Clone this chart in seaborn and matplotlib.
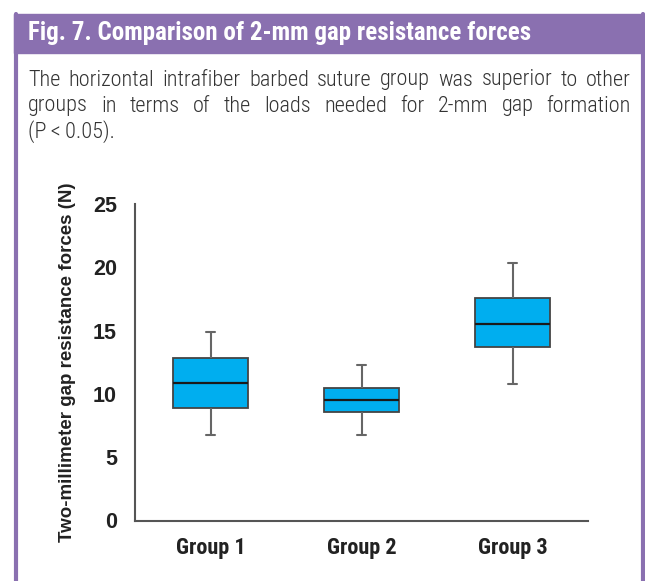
import pandas as pd
import matplotlib.pyplot as plt
import seaborn as sns
from matplotlib.patches import Rectangle
from matplotlib.lines import Line2D

# ---------------------------
# DATA
# ---------------------------
groups = ["Group 1", "Group 2", "Group 3"]
whisker_low = [6.75, 6.75, 10.8]
q1 = [8.85, 8.55, 13.7]
median = [10.85, 9.5, 15.55]
q3 = [12.8, 10.45, 17.55]
whisker_high = [14.9, 12.3, 20.35]

title = "Fig. 7. Comparison of 2-mm gap resistance forces"
caption = [
    "The horizontal intrafiber barbed suture group was superior to other",
    "groups in terms of the loads needed for 2-mm gap formation",
    "(P\u2009<\u20090.05).",
]
ylabel = "Two-millimeter gap resistance forces (N)"
yticks = [0, 5, 10, 15, 20, 25]

# five-number summary -> long table (quartiles of 5 points = q1/median/q3)
rows = []
for i, g in enumerate(groups):
    for v in [whisker_low[i], q1[i], median[i], q3[i], whisker_high[i]]:
        rows.append({"group": g, "force": v})
df = pd.DataFrame(rows)

# ---------------------------
# FIGURE
# ---------------------------
sns.set_style("white")
cond = ["Roboto Condensed", "PT Sans Narrow", "DejaVu Sans"]
plain = ["Liberation Sans", "DejaVu Sans"]
plt.rcParams["font.family"] = cond

W, H = 645, 581
fig = plt.figure(figsize=(6.45, 5.81), dpi=100)
purple = "#8A70B0"

# frame + header
fig.patches.append(Rectangle((14 / W, 1 - 53 / H), (W - 14) / W, 39 / H,
                             transform=fig.transFigure, color=purple, zorder=0))
fig.lines.append(Line2D([15.5 / W, 15.5 / W], [0, 1 - 14 / H], transform=fig.transFigure,
                        color=purple, lw=3))
fig.lines.append(Line2D([643 / W, 643 / W], [0, 1 - 14 / H], transform=fig.transFigure,
                        color=purple, lw=3))

fig.text(28 / W, 1 - 33 / H, title, color="white", fontsize=18, fontweight="bold",
         va="center", ha="left")

# caption, first two lines justified between x=28 and x=631
renderer = fig.canvas.get_renderer()
x0, x1 = 28, 631
cap_kw = dict(color="#333333", fontsize=16, fontweight="light", va="center", ha="left")
for i, line in enumerate(caption):
    y = 1 - (80 + i * 26) / H
    if i == len(caption) - 1:
        fig.text(x0 / W, y, line, **cap_kw)
        continue
    words = line.split(" ")
    texts = [fig.text(0, y, w_, **cap_kw) for w_ in words]
    widths = [t.get_window_extent(renderer).width for t in texts]
    gap = (x1 - x0 - sum(widths)) / (len(words) - 1)
    x = x0
    for t, wd in zip(texts, widths):
        t.set_x(x / W)
        x += wd + gap

ax = fig.add_axes([135 / W, 1 - 520.5 / H, 453 / W, 316.5 / H])
sns.boxplot(data=df, x="group", y="force", ax=ax, color="#00AEEF", saturation=1,
            width=0.5, whis=(0, 100), linecolor="#333333", linewidth=1.3,
            boxprops=dict(edgecolor="#444444"),
            whiskerprops=dict(color="#666666", linewidth=1.5),
            capprops=dict(color="#666666", linewidth=1.5),
            medianprops=dict(color="#1a1a1a", linewidth=1.6),
            capwidths=0.055)

ax.set_ylim(0, 25)
ax.set_xlim(-0.5, 2.5)
ax.set_yticks(yticks)
ax.set_xlabel("")
ax.set_ylabel(ylabel, fontsize=13.5, fontweight="bold", color="#222222",
              family=plain, labelpad=12)
sns.despine(ax=ax)
for s in ["left", "bottom"]:
    ax.spines[s].set_color("#555555")
    ax.spines[s].set_linewidth(1.5)
ax.tick_params(axis="both", direction="in", length=7, width=1.3, color="#555555")
ax.tick_params(axis="y", pad=13, labelsize=15.5, labelcolor="#222222")
ax.tick_params(axis="x", pad=12, labelsize=16, labelcolor="#222222")
for lab in ax.get_yticklabels():
    lab.set_fontweight("bold")
    lab.set_family(plain)
for lab in ax.get_xticklabels():
    lab.set_fontweight("bold")

fig.savefig("out.png", dpi=100)
